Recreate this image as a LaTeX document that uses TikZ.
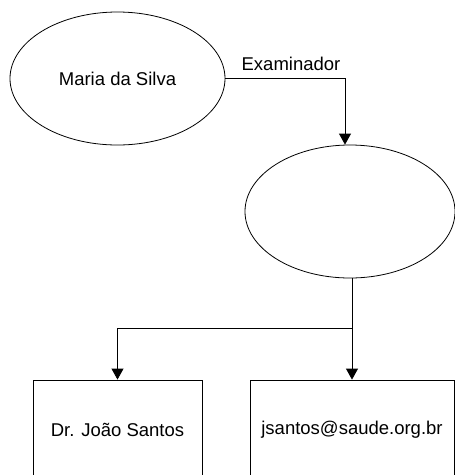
\documentclass[tikz,border=0pt]{standalone}
\usepackage{fontspec}
\setmainfont{Liberation Sans}
\usetikzlibrary{shapes,arrows.meta}

\begin{document}
\begin{tikzpicture}[x=1pt,y=-1pt,line width=0.8pt,
  every node/.style={font=\fontsize{18.5}{22}\selectfont},
  oval/.style={ellipse,draw,inner sep=0pt},
  box/.style={rectangle,draw,inner sep=0pt},
  link/.style={-{Triangle[width=12pt,length=11pt]}}]
\clip (0,0) rectangle (455,475);

\node[oval,minimum width=215pt,minimum height=133pt](person) at (117.5,78.5){Maria da Silva};
\node[oval,minimum width=210pt,minimum height=133pt](exam) at (350,211.5){};

\node[box,minimum width=169pt,minimum height=100pt](doctor) at (117.5,430){Dr. Jo\~ao Santos};
\node[box,minimum width=204pt,minimum height=100pt](email) at (352,430){jsantos@saude.org.br};

\node(role) at (291,64){Examinador};

\coordinate (split) at (352,328);

\draw[link] (person.east) -| ([xshift=-5pt]exam.north);
\draw (exam.south -| split) -- (split);
\draw[link] (split) -- (email.north);
\draw[link] (split) -| (doctor.north);

\end{tikzpicture}
\end{document}
